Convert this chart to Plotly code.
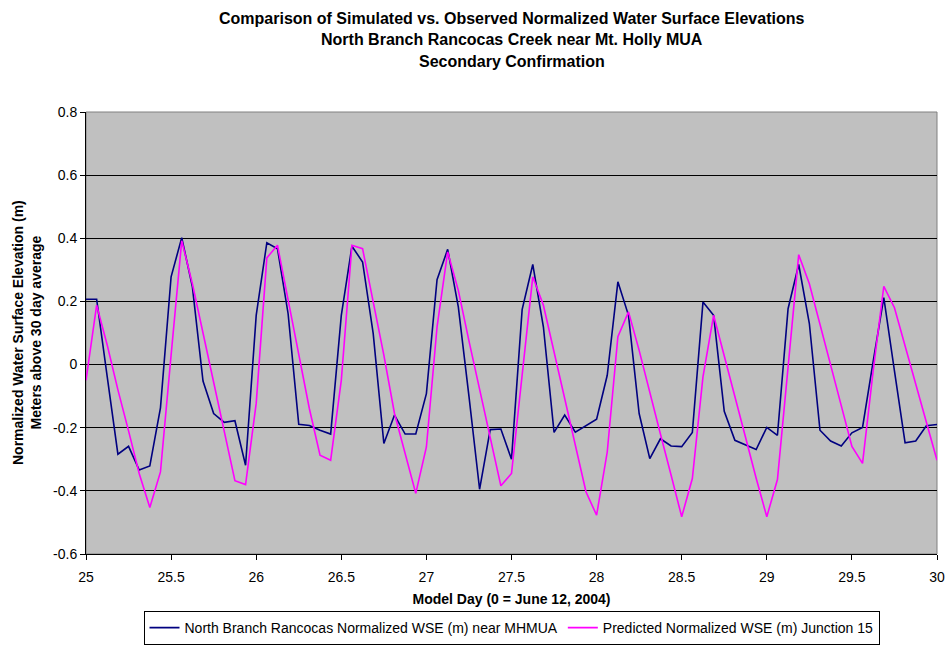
import plotly.graph_objects as go

model_day = [25.0, 25.0625, 25.125, 25.1875, 25.25, 25.3125, 25.375, 25.4375,
             25.5, 25.5625, 25.625, 25.6875, 25.75, 25.8125, 25.875, 25.9375,
             26.0, 26.0625, 26.125, 26.1875, 26.25, 26.3125, 26.375, 26.4375,
             26.5, 26.5625, 26.625, 26.6875, 26.75, 26.8125, 26.875, 26.9375,
             27.0, 27.0625, 27.125, 27.1875, 27.25, 27.3125, 27.375, 27.4375,
             27.5, 27.5625, 27.625, 27.6875, 27.75, 27.8125, 27.875, 27.9375,
             28.0, 28.0625, 28.125, 28.1875, 28.25, 28.3125, 28.375, 28.4375,
             28.5, 28.5625, 28.625, 28.6875, 28.75, 28.8125, 28.875, 28.9375,
             29.0, 29.0625, 29.125, 29.1875, 29.25, 29.3125, 29.375, 29.4375,
             29.5, 29.5625, 29.625, 29.6875, 29.75, 29.8125, 29.875, 29.9375,
             30.0]

observed_wse = [0.207, 0.207, -0.04, -0.284, -0.259, -0.334, -0.321, -0.137,
                0.278, 0.402, 0.246, -0.052, -0.155, -0.183, -0.178, -0.319,
                0.156, 0.386, 0.367, 0.161, -0.189, -0.193, -0.208, -0.220,
                0.156, 0.375, 0.325, 0.098, -0.250, -0.160, -0.220, -0.220,
                -0.092, 0.269, 0.365, 0.183, -0.10, -0.395, -0.206, -0.204,
                -0.300, 0.174, 0.317, 0.119, -0.215, -0.160, -0.214, -0.194,
                -0.173, -0.034, 0.262, 0.156, -0.155, -0.298, -0.235, -0.258,
                -0.260, -0.215, 0.198, 0.156, -0.148, -0.240, -0.255, -0.269,
                -0.199, -0.224, 0.177, 0.317, 0.130, -0.208, -0.242, -0.258,
                -0.216, -0.199, 0.01, 0.212, -0.02, -0.248, -0.242, -0.194,
                -0.190]

predicted_wse = [-0.050, 0.188, 0.061, -0.08, -0.21, -0.345, -0.453, -0.340,
                 0.03, 0.392, 0.256, 0.10, -0.06, -0.21, -0.368, -0.380,
                 -0.123, 0.338, 0.378, 0.205, 0.03, -0.14, -0.287, -0.303,
                 -0.05, 0.378, 0.367, 0.20, 0.03, -0.155, -0.285, -0.408,
                 -0.261, 0.119, 0.357, 0.235, 0.075, -0.08, -0.235, -0.384,
                 -0.345, -0.03, 0.278, 0.188, 0.04, -0.11, -0.26, -0.403,
                 -0.477, -0.277, 0.088, 0.167, 0.045, -0.09, -0.22, -0.35,
                 -0.482, -0.361, -0.039, 0.156, 0.03, -0.10, -0.23, -0.36,
                 -0.482, -0.364, 0.0, 0.348, 0.256, 0.13, 0.0, -0.13,
                 -0.259, -0.313, -0.02, 0.248, 0.180, 0.06, -0.06, -0.18,
                 -0.303]

x_ticks = [25, 25.5, 26, 26.5, 27, 27.5, 28, 28.5, 29, 29.5, 30]
x_tick_labels = ["25", "25.5", "26", "26.5", "27", "27.5", "28", "28.5", "29", "29.5", "30"]
y_ticks = [-0.6, -0.4, -0.2, 0, 0.2, 0.4, 0.6, 0.8]
y_tick_labels = ["-0.6", "-0.4", "-0.2", "0", "0.2", "0.4", "0.6", "0.8"]

title_lines = ["Comparison of Simulated vs. Observed Normalized Water Surface Elevations",
               "North Branch Rancocas Creek near Mt. Holly MUA",
               "Secondary Confirmation"]
y_title = "Normalized Water Surface Elevation (m)<br>Meters above 30 day average"

FONT = "Liberation Sans, Arial, sans-serif"

fig = go.Figure()
fig.add_trace(go.Scatter(x=model_day, y=observed_wse, mode="lines",
                         name="North Branch Rancocas Normalized WSE (m) near MHMUA",
                         line=dict(color="#000080", width=1.6)))
fig.add_trace(go.Scatter(x=model_day, y=predicted_wse, mode="lines",
                         name="Predicted Normalized WSE (m) Junction 15",
                         line=dict(color="#FF00FF", width=1.6)))

for i, t in enumerate(title_lines):
    fig.add_annotation(text="<b>" + t + "</b>", xref="paper", yref="paper",
                       x=0.5, y=1 + (112 - 18.5 - 21.5 * i) / 442, xanchor="center",
                       yanchor="middle", showarrow=False,
                       font=dict(family=FONT, size=16, color="black"))

fig.add_annotation(text="<b>" + y_title + "</b>", xref="paper", yref="paper",
                   x=(27 - 86) / 851, y=0.5, xanchor="center", yanchor="middle",
                   textangle=-90, showarrow=False,
                   font=dict(family=FONT, size=14, color="black"))

fig.add_shape(type="rect", xref="paper", yref="paper", x0=0, y0=0, x1=1, y1=1,
              line=dict(color="#808080", width=1), layer="below")

fig.update_layout(
    width=948, height=646,
    margin=dict(l=86, r=11, t=112, b=92, autoexpand=False),
    paper_bgcolor="white", plot_bgcolor="#C0C0C0",
    font=dict(family=FONT, size=14, color="black"),
    showlegend=True,
    legend=dict(orientation="h", x=0.5, xanchor="center",
                yref="container", y=1 - 645 / 646, yanchor="bottom",
                bordercolor="black", borderwidth=1, bgcolor="white",
                font=dict(family=FONT, size=14), tracegroupgap=0,
                itemwidth=30),
    xaxis=dict(range=[25, 30], tickvals=x_ticks, ticktext=x_tick_labels,
               showgrid=False, zeroline=False, showline=True, linecolor="black",
               linewidth=1, ticks="outside", ticklen=5, tickcolor="black",
               ticklabelstandoff=5,
               tickfont=dict(family=FONT, size=14), automargin=False,
               title=dict(text="<b>Model Day (0 = June 12, 2004)</b>",
                          font=dict(family=FONT, size=14), standoff=10)),
    yaxis=dict(range=[-0.6, 0.8], tickvals=y_ticks, ticktext=y_tick_labels,
               showgrid=True, gridcolor="black", gridwidth=1, zeroline=False,
               showline=True, linecolor="black", linewidth=1,
               ticks="outside", ticklen=5, tickcolor="black",
               tickfont=dict(family=FONT, size=14), automargin=False),
)

fig.write_html("out.html")
